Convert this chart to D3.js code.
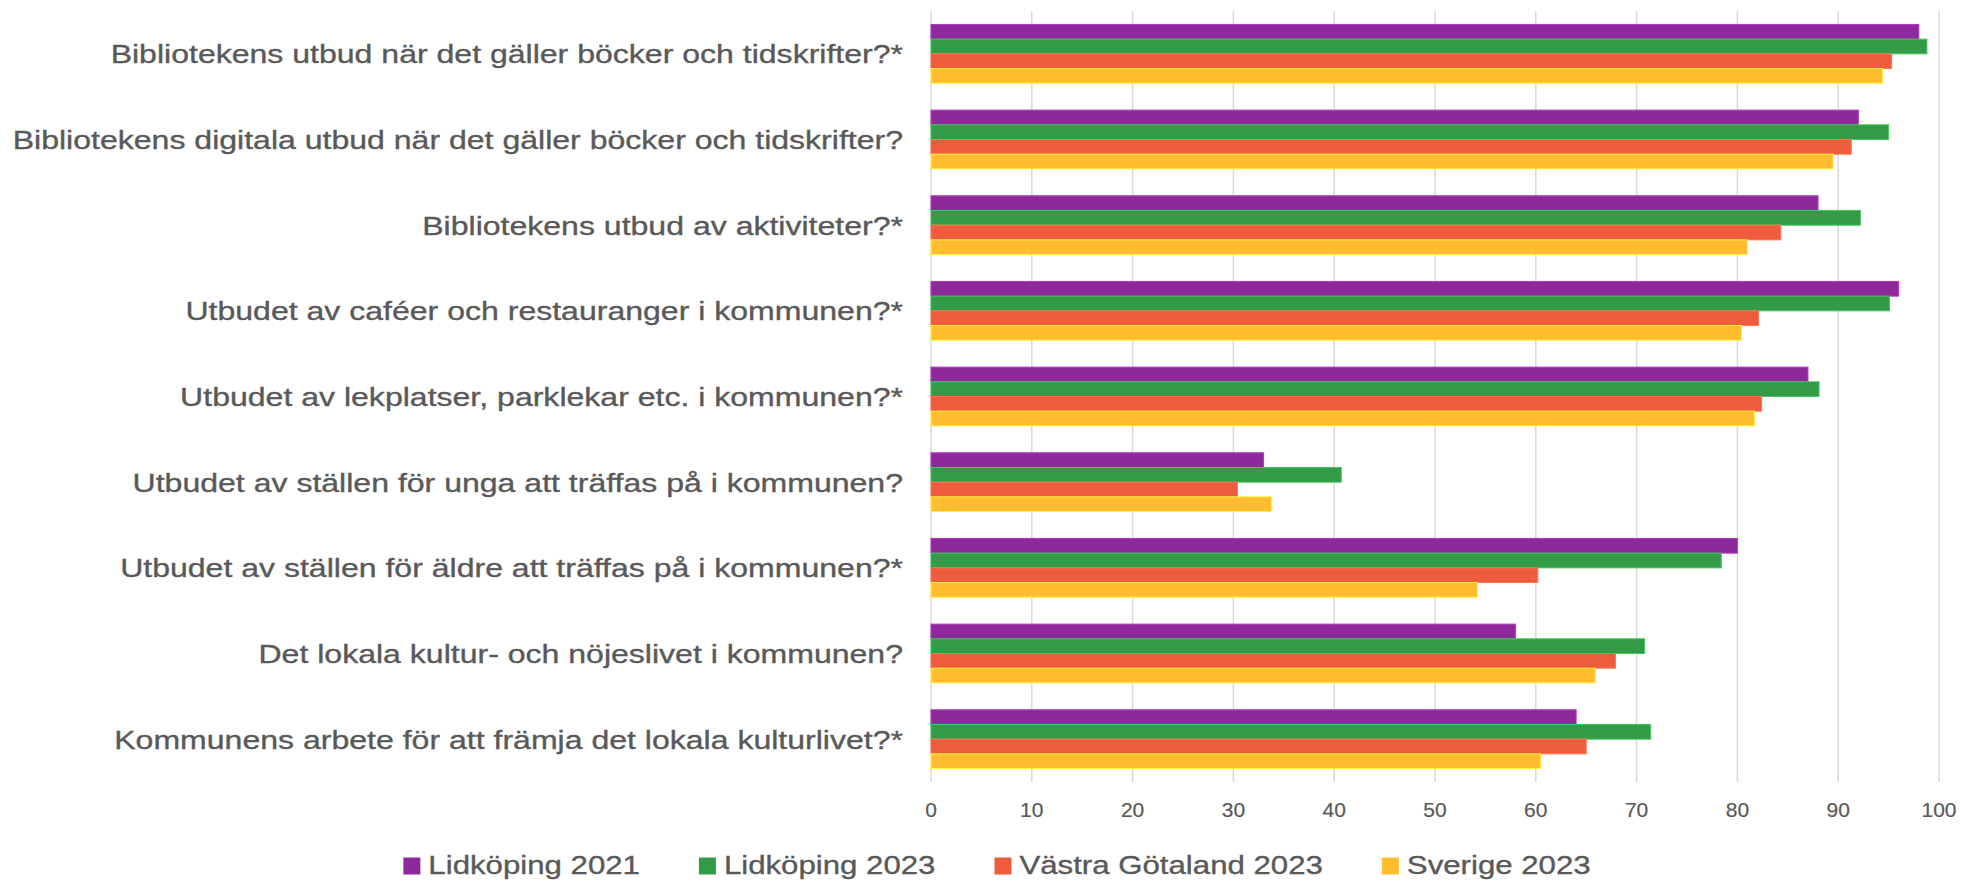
<!DOCTYPE html>
<html>
<head>
<meta charset="utf-8">
<script src="https://cdn.jsdelivr.net/npm/d3@7"></script>
<style>
  body { margin: 0; background: #fff; }
  text { font-family: "Liberation Sans", Arial, sans-serif; fill: #595959; stroke: #595959; stroke-width: 0.35px; }
</style>
</head>
<body>
<div id="chartContainer"></div>
<script type="text/javascript">
    // categories, top to bottom
    var categories = [
      "Bibliotekens utbud när det gäller böcker och tidskrifter?*",
      "Bibliotekens digitala utbud när det gäller böcker och tidskrifter?",
      "Bibliotekens utbud av aktiviteter?*",
      "Utbudet av caféer och restauranger i kommunen?*",
      "Utbudet av lekplatser, parklekar etc. i kommunen?*",
      "Utbudet av ställen för unga att träffas på i kommunen?",
      "Utbudet av ställen för äldre att träffas på i kommunen?*",
      "Det lokala kultur- och nöjeslivet i kommunen?",
      "Kommunens arbete för att främja det lokala kulturlivet?*"
    ];
    var seriesNames = ["Lidköping 2021", "Lidköping 2023", "Västra Götaland 2023", "Sverige 2023"];
    var seriesColors = ["#8e299b", "#339b47", "#ef5b3d", "#ffbd2f"];

    var lidkoping2021 = [98, 92, 88, 96, 87, 33, 80, 58, 64];
    var lidkoping2023 = [98.8, 95.0, 92.2, 95.1, 88.1, 40.7, 78.4, 70.8, 71.4];
    var vastraGotaland2023 = [95.3, 91.3, 84.3, 82.1, 82.4, 30.4, 60.2, 67.9, 65.0];
    var sverige2023 = [94.4, 89.5, 81.0, 80.4, 81.7, 33.8, 54.2, 65.9, 60.5];

    var xTicks = [0, 10, 20, 30, 40, 50, 60, 70, 80, 90, 100];

    var seriesValues = [lidkoping2021, lidkoping2023, vastraGotaland2023, sverige2023];

    /*
      layout
      */
    var width = 1962;
    var height = 882;
    var bounds = { x: 931, y: 11, width: 1008, height: 771 };
    var stretch = 1.2;   // the original text is a bit wider than plain Arial

    var svg = d3.select("#chartContainer").append("svg")
        .attr("width", width)
        .attr("height", height);

    var x = d3.scaleLinear().domain([0, 100]).range([bounds.x, bounds.x + bounds.width]);
    var y = d3.scaleBand().domain(categories)
        .range([bounds.y, bounds.y + bounds.height])
        .paddingInner(0.314)
        .paddingOuter(0.157);
    var ySub = d3.scaleBand().domain(seriesNames).range([0, y.bandwidth()]);

    // gridlines
    svg.append("g").selectAll("line")
      .data(xTicks)
      .enter()
      .append("line")
        .attr("x1", function (d) { return x(d); })
        .attr("x2", function (d) { return x(d); })
        .attr("y1", bounds.y)
        .attr("y2", bounds.y + bounds.height)
        .style("stroke", "#d9d9d9")
        .style("stroke-width", 1.5);

    // tick labels
    svg.append("g").selectAll("text")
      .data(xTicks)
      .enter()
      .append("text")
        .attr("x", function (d) { return x(d); })
        .attr("y", 817)
        .attr("text-anchor", "middle")
        .style("font-size", "21px")
        .style("stroke-width", "0.2px")
        .text(function (d) { return d; });

    // bars
    var groups = svg.append("g").selectAll("g")
      .data(categories)
      .enter()
      .append("g")
        .attr("transform", function (d) { return "translate(0," + y(d) + ")"; });

    groups.selectAll("rect")
      .data(function (d, i) {
        return seriesNames.map(function (s, j) {
          return { series: s, value: seriesValues[j][i], color: seriesColors[j] };
        });
      })
      .enter()
      .append("rect")
        .attr("x", x(0))
        .attr("y", function (d) { return ySub(d.series); })
        .attr("width", function (d) { return x(d.value) - x(0); })
        .attr("height", ySub.bandwidth())
        .style("fill", function (d) { return d.color; })
        .style("stroke", function (d) { return d3.color(d.color).brighter(0.7); })
        .style("stroke-width", 1);

    // category labels
    svg.append("g").selectAll("g")
      .data(categories)
      .enter()
      .append("g")
        .attr("transform", function (d) {
          return "translate(903," + (y(d) + y.bandwidth() / 2) + ") scale(" + stretch + ",1)";
        })
      .append("text")
        .attr("text-anchor", "end")
        .attr("dy", "0.35em")
        .style("font-size", "26.7px")
        .text(function (d) { return d; });

    // legend
    var legend = svg.append("g");
    var items = legend.selectAll("g")
      .data(seriesNames)
      .enter()
      .append("g");
    items.append("rect")
        .attr("width", 17)
        .attr("height", 17)
        .attr("y", 857.5)
        .style("fill", function (d, i) { return seriesColors[i]; });
    items.append("g")
        .attr("transform", "translate(25,874) scale(" + stretch + ",1)")
      .append("text")
        .style("font-size", "26px")
        .text(function (d) { return d; });

    // place the items one after the other, centred under the chart
    var gap = 59;
    var widths = [];
    items.each(function () {
      widths.push(25 + d3.select(this).select("text").node().getComputedTextLength() * stretch);
    });
    var total = d3.sum(widths) + gap * (widths.length - 1);
    var cx = 997 - total / 2;
    items.attr("transform", function (d, i) {
      var pos = cx;
      cx += widths[i] + gap;
      return "translate(" + pos + ",0)";
    });
</script>
</body>
</html>
